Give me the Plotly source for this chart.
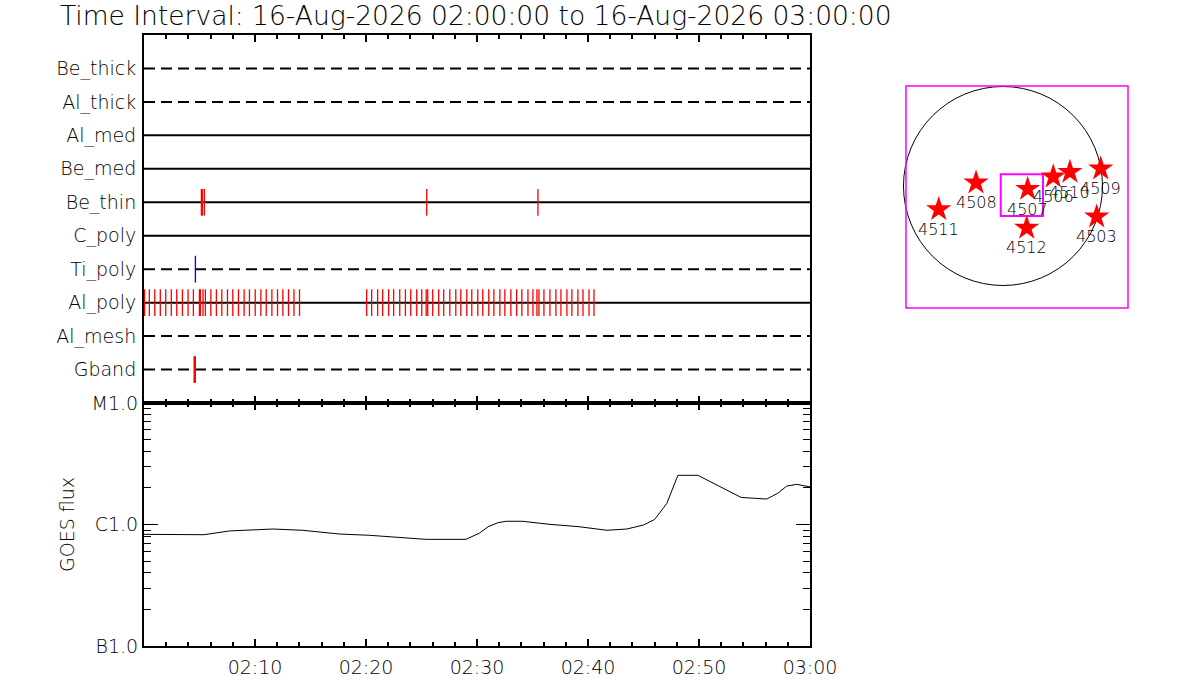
import pandas as pd
import plotly.graph_objects as go

# ---- data ----
title = "Time Interval: 16-Aug-2026 02:00:00 to 16-Aug-2026 03:00:00"
start = pd.Timestamp("2026-08-16 02:00:00")
end = pd.Timestamp("2026-08-16 03:00:00")

rows = ["Be_thick", "Al_thick", "Al_med", "Be_med", "Be_thin",
        "C_poly", "Ti_poly", "Al_poly", "Al_mesh", "Gband"]
row_dash = ["dash", "dash", "solid", "solid", "solid",
            "solid", "dash", "solid", "dash", "dash"]

# event times, minutes after 02:00
be_thin_min = [5.17, 5.26, 5.44, 25.47, 35.49]
ti_poly_min = [4.63]
gband_min = [4.57]
al_poly_min = [0.05, 0.48, 0.97, 1.47, 1.96, 2.46, 2.95, 3.46, 3.97, 4.45,
               4.99, 5.08, 5.32, 5.53, 6.02, 6.52, 7.01, 7.52, 8.00, 8.51,
               9.02, 9.50, 10.02, 10.53, 11.01, 11.52, 12.03, 12.51, 13.02,
               13.51, 14.01,
               20.06, 20.51, 21.05, 21.50, 22.04, 22.49, 23.04, 23.55, 24.03,
               24.57, 25.02, 25.42, 25.56, 26.01, 26.55, 27.00, 27.55, 28.09,
               28.54, 29.08, 29.53, 30.07, 30.52, 31.06, 31.52, 32.06, 32.51,
               33.05, 33.57, 34.04, 34.59, 35.04, 35.40, 35.58, 36.03, 36.57,
               37.11, 37.56, 38.10, 38.55, 39.09, 39.55, 40.09, 40.54]

goes_min = [0.0, 5.4, 7.7, 11.6, 14.3, 17.6, 20.3, 23.6, 25.4, 29.0, 30.2,
            31.0, 31.9, 32.6, 34.1, 36.5, 39.2, 41.7, 43.5, 45.0, 46.0, 47.1,
            48.1, 49.9, 51.9, 53.8, 56.1, 57.1, 57.9, 58.8, 60.0]
goes_flux = [8.3e-7, 8.24e-7, 8.85e-7, 9.18e-7, 8.96e-7, 8.35e-7, 8.15e-7,
             7.7e-7, 7.55e-7, 7.55e-7, 8.47e-7, 9.59e-7, 1.035e-6, 1.063e-6,
             1.063e-6, 1.004e-6, 9.59e-7, 8.96e-7, 9.18e-7, 9.9e-7, 1.10e-6,
             1.49e-6, 2.54e-6, 2.54e-6, 2.05e-6, 1.67e-6, 1.62e-6, 1.81e-6,
             2.07e-6, 2.14e-6, 2.04e-6]

time_ticks = ["02:10", "02:20", "02:30", "02:40", "02:50", "03:00"]
goes_ticks = [1e-7, 1e-6, 1e-5]
goes_labels = ["B1.0", "C1.0", "M1.0"]

# active regions on the disk, arcsec
region_ids = ["4508", "4511", "4507", "4512", "4506", "4510", "4509", "4503"]
region_x = [-260, -620, 238, 229, 485, 646, 943, 904]
region_y = [32, -225, -29, -405, 90, 135, 167, -296]


def at(mins):
    return [start + pd.Timedelta(minutes=m) for m in mins]


def segments(mins, row, half=0.4):
    xs, ys = [], []
    for t in at(mins):
        xs += [t, t, None]
        ys += [row - half, row + half, None]
    return xs, ys


W, H = 1200, 700


def fx(p):
    return p / W


def fy(p):
    return 1 - p / H


fig = go.Figure()
row_y = {name: len(rows) - i for i, name in enumerate(rows)}

for name, dash in zip(rows, row_dash):
    fig.add_trace(go.Scatter(x=[start, end], y=[row_y[name]] * 2, mode="lines",
                             line=dict(color="black", width=2, dash="11px,6px" if dash == "dash" else "solid"),
                             xaxis="x", yaxis="y", hoverinfo="skip"))

for mins, name, color, width in [(al_poly_min, "Al_poly", "red", 1.3),
                                 (be_thin_min, "Be_thin", "red", 1.3),
                                 (ti_poly_min, "Ti_poly", "blue", 1.3),
                                 (gband_min, "Gband", "red", 2.5)]:
    xs, ys = segments(mins, row_y[name])
    fig.add_trace(go.Scatter(x=xs, y=ys, mode="lines", line=dict(color=color, width=width),
                             xaxis="x", yaxis="y", hoverinfo="skip"))

fig.add_trace(go.Scatter(x=at(goes_min), y=goes_flux, mode="lines",
                         line=dict(color="black", width=1), xaxis="x2", yaxis="y2"))

fig.add_trace(go.Scatter(x=region_x, y=region_y, mode="markers",
                         marker=dict(symbol="star", size=19, color="red", line=dict(width=0)),
                         xaxis="x3", yaxis="y3"))

for rid, rx, ry in zip(region_ids, region_x, region_y):
    fig.add_annotation(x=rx, y=ry, xref="x3", yref="y3", text=rid, showarrow=False,
                       yshift=-20, font=dict(size=16))

# disk and field-of-view boxes
fig.add_shape(type="circle", xref="x3", yref="y3", x0=-960, x1=960, y0=-960, y1=960,
              line=dict(color="black", width=1), layer="below")
fig.add_shape(type="rect", xref="x3", yref="y3", x0=-936, x1=1206, y0=-1177, y1=965,
              line=dict(color="magenta", width=1.5), layer="below")
fig.add_shape(type="rect", xref="x3", yref="y3", x0=-22, x1=386, y0=-289, y1=113,
              line=dict(color="magenta", width=2), layer="below")

xdom = [fx(144), fx(810)]
time_axis = dict(type="date", range=[start, end], domain=xdom, automargin=False,
                 showline=True, linecolor="black", linewidth=2, mirror="ticks",
                 ticks="inside", ticklen=7, tickwidth=2, tickcolor="black",
                 tickmode="array", tickvals=at([10, 20, 30, 40, 50, 60]),
                 showgrid=False, zeroline=False,
                 minor=dict(ticks="inside", ticklen=4, tickwidth=2, tickcolor="black",
                            tickmode="linear", tick0=start, dtick=120000, showgrid=False))

fig.update_layout(
    width=W, height=H, margin=dict(l=0, r=0, t=0, b=0, autoexpand=False),
    paper_bgcolor="white", plot_bgcolor="white", showlegend=False,
    font=dict(family="DejaVu Sans", size=19, color="black", weight=200),
    xaxis=dict(time_axis, anchor="y", showticklabels=False),
    yaxis=dict(domain=[fy(403), fy(35)], range=[0, len(rows) + 1], anchor="x",
               automargin=False,
               showline=True, linecolor="black", linewidth=2, mirror=True,
               ticks="", tickmode="array", tickvals=[row_y[r] for r in rows], ticktext=rows,
               ticklabelstandoff=2, showgrid=False, zeroline=False, fixedrange=True),
    xaxis2=dict(time_axis, anchor="y2", ticktext=time_ticks, ticklabelstandoff=3),
    yaxis2=dict(domain=[fy(646), fy(403)], type="log", range=[-7, -5], anchor="x2",
                automargin=False,
                showline=True, linecolor="black", linewidth=2, mirror="ticks",
                ticks="inside", ticklen=14, tickwidth=1, tickcolor="black",
                tickmode="array", tickvals=goes_ticks, ticktext=goes_labels,
                ticklabelstandoff=0, showgrid=False, zeroline=False,
                minor=dict(ticks="inside", ticklen=7, tickwidth=1, tickcolor="black",
                           tickmode="array",
                           tickvals=[k * 1e-7 for k in range(2, 10)] + [k * 1e-6 for k in range(2, 10)],
                           showgrid=False)),
    xaxis3=dict(domain=[fx(900), fx(1135)], range=[-993.7, 1273.5], anchor="y3",
                visible=False, automargin=False),
    yaxis3=dict(domain=[fy(315), fy(80)], range=[-1244.6, 1022.7], anchor="x3",
                visible=False, automargin=False),
)

fig.add_annotation(text=title, x=fx(58), y=fy(15), xref="paper", yref="paper",
                   xanchor="left", yanchor="middle", showarrow=False, font=dict(size=26.5))
fig.add_annotation(text="GOES flux", x=fx(67), y=fy(525), xref="paper", yref="paper",
                   xanchor="center", yanchor="middle", textangle=-90, showarrow=False)

# drop the browser's default 8px body margin so the figure sits at the page corner
fig.write_html("out.html", config={"displayModeBar": False},
               post_script="document.body.style.margin = '0';")
